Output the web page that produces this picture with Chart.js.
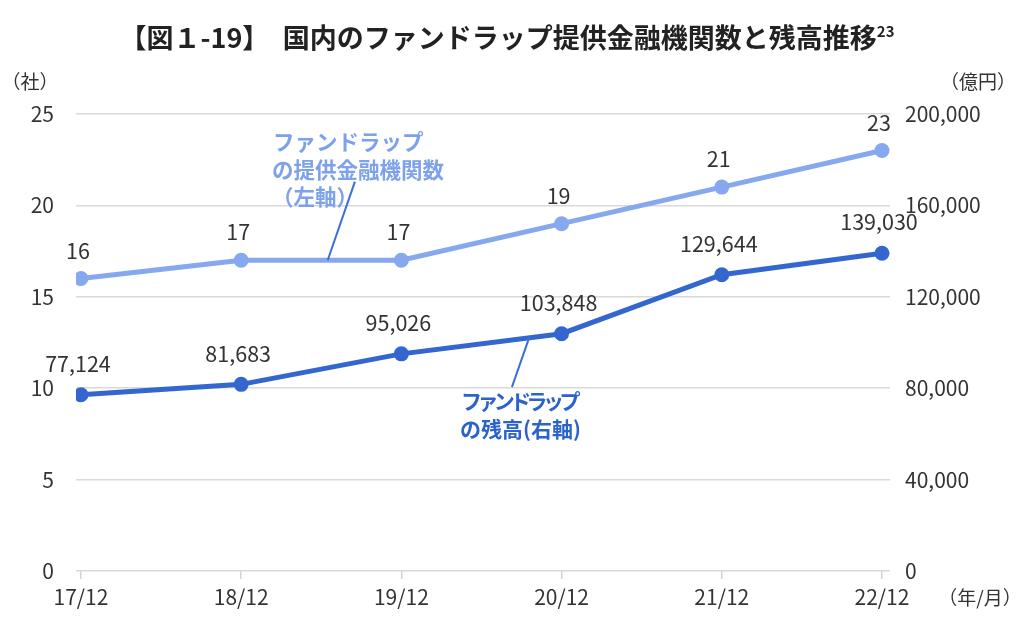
<!DOCTYPE html>
<html lang="ja">
<head>
<meta charset="utf-8">
<script src="https://cdn.jsdelivr.net/npm/chart.js@4/dist/chart.umd.min.js"></script>
<style>
  body { margin: 0; background: #fff; }
  #wrap { position: relative; width: 1024px; height: 621px; }
  #title {
    position: absolute; left: -5px; top: 20px; width: 1024px; text-align: center;
    font-family: "Noto Sans CJK JP", sans-serif; font-weight: bold; font-size: 27px; color: #222;
    line-height: 34px;
  }
  #title sup { font-size: 15px; vertical-align: 11px; line-height: 0; }
</style>
</head>
<body>
<div id="wrap">
  <canvas id="myChart" width="1024" height="621"></canvas>
  <div id="title">【図１-19】　国内のファンドラップ提供金融機関数と残高推移<sup>23</sup></div>
</div>
<script>
// データ
var labels = ["17/12", "18/12", "19/12", "20/12", "21/12", "22/12"];
var companies = [16, 17, 17, 19, 21, 23];               // 提供金融機関数（左軸, 社）
var balance = [77124, 81683, 95026, 103848, 129644, 139030]; // 残高（右軸, 億円）
var leftTicks = [0, 5, 10, 15, 20, 25];
var rightTicks = [0, 40000, 80000, 120000, 160000, 200000];

var lightBlue = "#86a8ee";
var darkBlue = "#3367cf";
var font = "'Noto Sans CJK JP', sans-serif";

function toPoints(arr) {
  var pts = [];
  for (var i = 0; i < arr.length; i++) pts.push({ x: i, y: arr[i] });
  return pts;
}

// 文字間を詰めて描く
function drawTight(ctx, str, x, y, step) {
  for (var i = 0; i < str.length; i++) {
    ctx.fillText(str[i], x + i * step, y);
  }
}

// ラベル・注釈の描画
var labelPlugin = {
  id: "labels",
  afterDatasetsDraw: function(chart) {
    var ctx = chart.ctx;
    var x = chart.scales.x, yl = chart.scales.yL, yr = chart.scales.yR;
    ctx.save();

    // 注釈の引出線
    ctx.strokeStyle = "#3a6fd6";
    ctx.lineWidth = 2;
    ctx.beginPath();
    ctx.moveTo(x.getPixelForValue(1.71), yl.getPixelForValue(21.3));
    ctx.lineTo(x.getPixelForValue(1.54), yl.getPixelForValue(17));
    ctx.stroke();
    ctx.beginPath();
    ctx.moveTo(x.getPixelForValue(2.8), yr.getPixelForValue(102600));
    ctx.lineTo(x.getPixelForValue(2.69), yr.getPixelForValue(80500));
    ctx.stroke();

    // 値ラベル
    ctx.fillStyle = "#333";
    ctx.font = "21.5px " + font;
    ctx.textAlign = "center";
    ctx.textBaseline = "middle";
    for (var i = 0; i < labels.length; i++) {
      var px = x.getPixelForValue(i) - 3;
      ctx.fillText(String(companies[i]), px, yl.getPixelForValue(companies[i]) - 28);
      ctx.fillText(balance[i].toLocaleString("en-US"), px, yr.getPixelForValue(balance[i]) - 31);
    }

    // 系列の注釈
    ctx.textAlign = "left";
    ctx.font = "bold 21.5px " + font;
    ctx.fillStyle = "#7da1ea";
    ctx.fillText("ファンドラップ", 273, 142);
    ctx.fillText("の提供金融機関数", 272, 170);
    ctx.fillText("（左軸）", 272, 197);
    ctx.font = "bold 21px " + font;
    ctx.fillStyle = "#2b62cb";
    drawTight(ctx, "ファンドラップ", 461, 401, 16.4);
    ctx.fillText("の残高(右軸)", 460, 429);

    // 単位
    ctx.font = "19px " + font;
    ctx.fillStyle = "#333";
    ctx.textAlign = "center";
    ctx.fillText("（社）", 30, 82);
    ctx.fillText("（億円）", 978, 82);
    ctx.fillText("（年/月）", 980, 598);
    ctx.restore();
  }
};

var ctx = document.getElementById("myChart").getContext("2d");
var myChart = new Chart(ctx, {
  type: "line",
  data: {
    datasets: [
      { label: "提供金融機関数", data: toPoints(companies), yAxisID: "yL", borderColor: lightBlue, backgroundColor: lightBlue,
        borderWidth: 5, pointRadius: 7.5, pointBackgroundColor: lightBlue, pointBorderWidth: 0, tension: 0 },
      { label: "残高", data: toPoints(balance), yAxisID: "yR", borderColor: darkBlue, backgroundColor: darkBlue,
        borderWidth: 5, pointRadius: 7.5, pointBackgroundColor: darkBlue, pointBorderWidth: 0, tension: 0 }
    ]
  },
  options: {
    responsive: false,
    animation: false,
    layout: { padding: { top: 114, left: 0, right: 0, bottom: 0 } },
    plugins: { legend: { display: false }, tooltip: { enabled: false } },
    scales: {
      x: {
        type: "linear", min: -0.031, max: 5.05,
        afterFit: function(s) { s.height = 50; },
        afterBuildTicks: function(s) { s.ticks = labels.map(function(l, i) { return { value: i }; }); },
        grid: { drawOnChartArea: false, drawTicks: true, tickLength: 8, color: "#d4d4d4", lineWidth: 1.5 },
        border: { display: false },
        ticks: { padding: 5, autoSkip: false, maxRotation: 0, color: "#333", font: { size: 21, family: font },
          callback: function(v) { return labels[v]; } }
      },
      yL: {
        position: "left", min: 0, max: 25,
        afterFit: function(s) { s.width = 76; },
        afterBuildTicks: function(s) { s.ticks = leftTicks.map(function(v) { return { value: v }; }); },
        grid: { color: "#d9d9d9", lineWidth: 1.5, drawTicks: false },
        border: { display: false },
        ticks: { padding: 22, color: "#333", font: { size: 21, family: font } }
      },
      yR: {
        position: "right", min: 0, max: 200000,
        afterFit: function(s) { s.width = 134; },
        afterBuildTicks: function(s) { s.ticks = rightTicks.map(function(v) { return { value: v }; }); },
        grid: { drawOnChartArea: false, drawTicks: false },
        border: { display: false },
        ticks: { padding: 15, color: "#333", font: { size: 21, family: font },
          callback: function(v) { return v.toLocaleString("en-US"); } }
      }
    }
  },
  plugins: [labelPlugin]
});
</script>
</body>
</html>
